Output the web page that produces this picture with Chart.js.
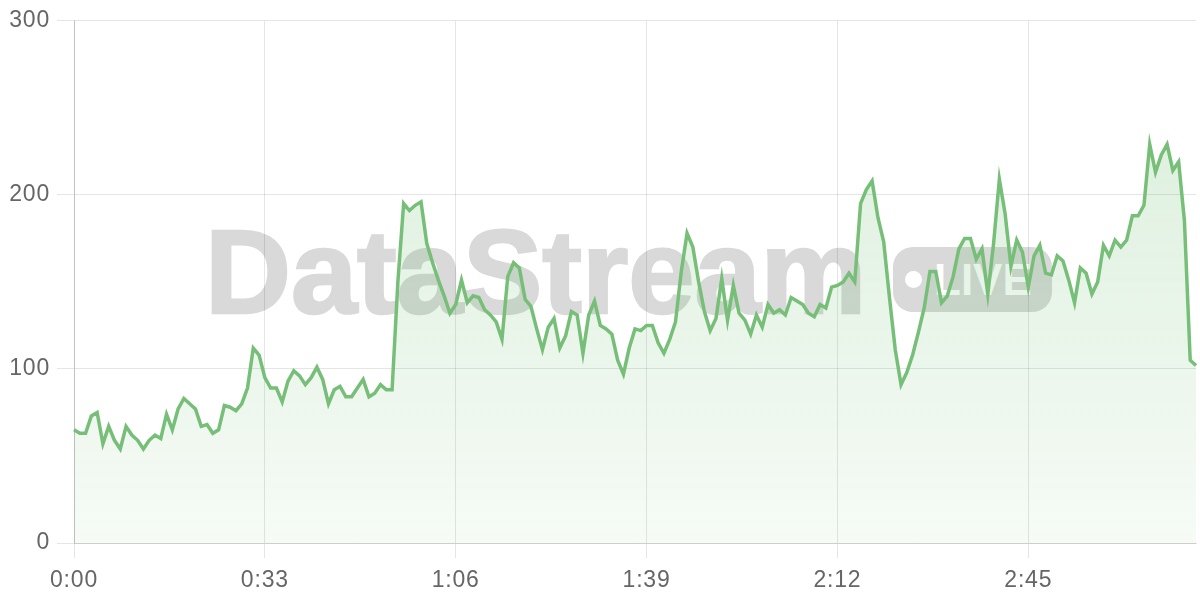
<!DOCTYPE html>
<html>
<head>
<meta charset="utf-8">
<script src="https://cdn.jsdelivr.net/npm/chart.js@4.4.1/dist/chart.umd.min.js"></script>
<style>
  html, body { margin: 0; padding: 0; background: #fff; }
  #wrap { position: relative; width: 1200px; height: 600px; overflow: hidden; }
  #watermark {
    position: absolute; left: 205px; top: 212px;
    font-family: "Liberation Sans", Arial, sans-serif; font-weight: bold;
    font-size: 119px; line-height: 119px; color: #d9d9d9; white-space: nowrap;
    -webkit-text-stroke: 2.5px #d9d9d9;
  }
  #live {
    position: absolute; left: 893px; top: 247px; width: 159px; height: 65px;
    border-radius: 20px; background: #d9d9d9;
  }
  #live .dot {
    position: absolute; left: 12px; top: 24px; width: 17px; height: 17px;
    border-radius: 50%; background: #fff;
  }
  #live .txt {
    position: absolute; left: 41px; top: 11px;
    font-family: "Liberation Sans", Arial, sans-serif; font-weight: bold;
    font-size: 44px; line-height: 44px; color: #fff;
  }
  canvas { position: absolute; left: 0; top: 0; }
</style>
</head>
<body>
<div id="wrap">
  <div id="watermark">DataStream</div>
  <div id="live"><span class="dot"></span><span class="txt">LIVE</span></div>
  <canvas id="chart" width="1200" height="600"></canvas>
</div>
<script>
// one value per second
const values = [
  65, 63, 63, 73, 75, 57, 67, 59, 54, 67, 62, 59, 54, 59, 62, 60, 74, 65, 77, 83,
  80, 77, 67, 68, 63, 65, 79, 78, 76, 80, 89, 112, 108, 95, 89, 89, 81, 93, 99, 96,
  91, 95, 101, 94, 80, 88, 90, 84, 84, 89, 94, 84, 86, 91, 88, 88, 150, 195, 191, 194,
  196, 172, 161, 151, 142, 132, 137, 151, 138, 142, 141, 134, 131, 127, 117, 153, 161, 158, 140, 136,
  123, 111, 124, 129, 112, 119, 133, 131, 109, 131, 139, 125, 123, 120, 105, 97, 112, 123, 122, 125,
  125, 115, 109, 117, 127, 156, 178, 170, 150, 133, 122, 129, 152, 128, 148, 132, 128, 120, 131, 124,
  137, 132, 134, 131, 141, 139, 137, 132, 130, 137, 135, 147, 148, 150, 155, 150, 195, 203, 208, 187,
  173, 141, 111, 91, 98, 108, 121, 135, 156, 156, 138, 142, 153, 169, 175, 175, 163, 169, 143, 172,
  209, 189, 159, 174, 167, 147, 165, 171, 155, 154, 165, 162, 151, 138, 158, 155, 143, 150, 171, 165,
  174, 170, 174, 188, 188, 194, 229, 213, 223, 229, 214, 219, 185, 105, 102
];
const tickLabels = ["0:00", "0:33", "1:06", "1:39", "2:12", "2:45"];
const yTicks = [0, 100, 200, 300];

const labels = values.map((_, i) => Math.floor(i / 60) + ":" + String(i % 60).padStart(2, "0"));

const tickFont = { family: "Liberation Sans", size: 23 };

const spacing = {
  id: "spacing",
  beforeDraw(chart) { chart.ctx.letterSpacing = "0.8px"; }
};

new Chart(document.getElementById("chart"), {
  type: "line",
  data: {
    labels: labels,
    datasets: [{
      data: values,
      borderColor: "#77bf78",
      borderWidth: 3.5,
      pointRadius: 0,
      tension: 0,
      fill: true,
      backgroundColor: ctx => {
        const area = ctx.chart.chartArea;
        if (!area) return "rgba(76,175,80,0.1)";
        const g = ctx.chart.ctx.createLinearGradient(0, area.top, 0, area.bottom);
        g.addColorStop(0, "rgba(76,175,80,0.22)");
        g.addColorStop(1, "rgba(76,175,80,0.05)");
        return g;
      }
    }]
  },
  options: {
    responsive: false,
    animation: false,
    layout: { padding: { top: 19, right: 4, left: 0, bottom: 0 } },
    plugins: { legend: { display: false }, tooltip: { enabled: false } },
    scales: {
      x: {
        grid: { color: "rgba(0,0,0,0.1)", tickLength: 15 },
        border: { color: "rgba(0,0,0,0.1)" },
        ticks: {
          autoSkip: true, maxTicksLimit: tickLabels.length, maxRotation: 0,
          padding: 9, color: "#666", font: tickFont
        },
        afterFit(scale) { scale.height = 57; }
      },
      y: {
        min: 0, max: 300,
        grid: { color: "rgba(0,0,0,0.1)", tickLength: 17 },
        border: { color: "rgba(0,0,0,0.16)" },
        ticks: { padding: 7, color: "#666", font: tickFont },
        afterBuildTicks(scale) { scale.ticks = yTicks.map(v => ({ value: v })); },
        afterFit(scale) { scale.width = 74; }
      }
    }
  },
  plugins: [spacing]
});
</script>
</body>
</html>
